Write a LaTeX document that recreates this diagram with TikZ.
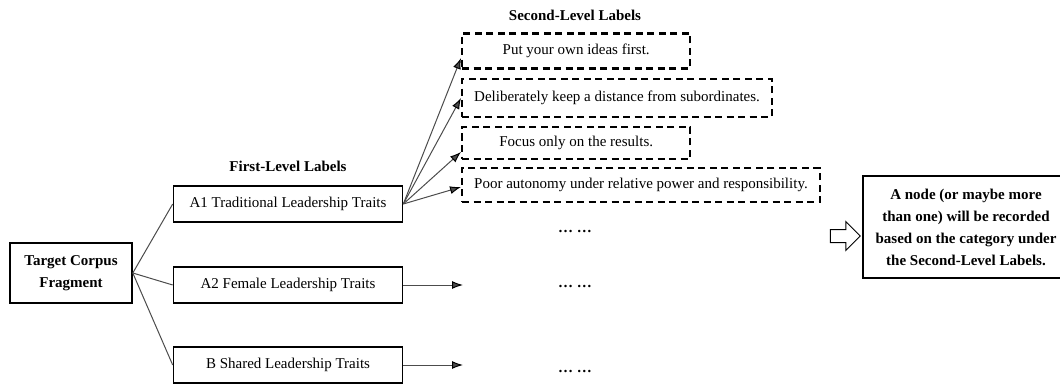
\documentclass[tikz,border=0pt]{standalone}
\usepackage{fontspec}
\setmainfont{Liberation Serif}
\usetikzlibrary{arrows.meta,shapes.arrows}
\newcommand\figfont{\fontsize{15}{22}\selectfont}
\tikzset{
	% solid boxes for the corpus fragment and the first-level labels
	solid box/.style={draw,line width=1.6pt,minimum width=229,minimum height=36,inner sep=0,font=\figfont},
	% dashed boxes for the second-level labels
	dashed box/.style={draw,line width=2.4pt,dash pattern=on 7pt off 4.5pt,minimum width=228,minimum height=35,inner xsep=12pt,anchor=west,font=\figfont},
	heading/.style={font=\figfont\bfseries}
}

\begin{document}
\begin{tikzpicture}[x=1pt,y=-1pt,font=\figfont,>={Latex[length=11pt,width=8pt,color=black]}]
\useasboundingbox (0,0) rectangle (1060,385);

% root
\node[solid box, font=\figfont\bfseries, align=center, minimum width=122, minimum height=60] (t) at (71,273) {Target Corpus\\Fragment};

% first-level labels
\node[heading] (h1) at (288,166) {First-Level Labels};
\node(a1) at (288,204) [solid box] {A1 Traditional Leadership Traits};
\node(a2) at (288,285) [solid box] {A2 Female Leadership Traits};
\node(b) at (288,365) [solid box] {B Shared Leadership Traits};

% second-level labels
\node[heading] (h2) at (575,15) {Second-Level Labels};
\node(s1) at (461,51) [dashed box] {Put your own ideas first.};
\node(s2) at (461,98) [dashed box, minimum height=38] {Deliberately keep a distance from subordinates.};
\node(s3) at (461,143) [dashed box, minimum height=32] {Focus only on the results.};
\node(s4) at (461,185) [dashed box, minimum height=34] {Poor autonomy under relative power and responsibility.};

\node(d1) at (575,231) {\textbf{…\hspace{4pt}…}};
\node(d2) at (575,286) {\textbf{…\hspace{4pt}…}};
\node(d3) at (575,371) {\textbf{…\hspace{4pt}…}};
\coordinate (e2) at (463,285);
\coordinate (e3) at (463,365);

% result
\node[single arrow, draw, line width=1pt, minimum height=30, inner sep=6pt, single arrow head extend=8pt] (hollow) at (842,236) {};
\node[solid box, font=\figfont\bfseries, align=center, minimum width=206, minimum height=102] (r) at (966,227)
	{A node (or maybe more\\than one) will be recorded\\based on the category under\\the Second-Level Labels.};

\path[black!70, line width=1pt] (t.east) edge (a1.west)
          (t.east) edge (a2.west)
          (t.east) edge (b.west);
\path[->, black!70, line width=1pt] (a1.east) edge ([yshift=-7pt]s1.west)
          (a1.east) edge (s2.west)
          (a1.east) edge ([yshift=-9pt]s3.west)
          (a1.east) edge ([yshift=-2pt]s4.west)
          (a2.east) edge (e2)
          (b.east) edge (e3);

\end{tikzpicture}
\end{document}
